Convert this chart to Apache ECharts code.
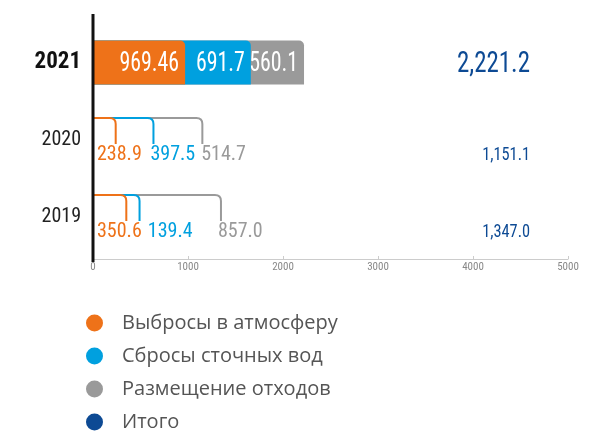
<!DOCTYPE html>
<html>
<head>
<meta charset="utf-8">
<script src="https://cdn.jsdelivr.net/npm/echarts@6/dist/echarts.min.js"></script>
<style>
  html, body { margin: 0; padding: 0; background: #fff; }
  #chart { width: 600px; height: 431px; }
</style>
</head>
<body>
<div id="chart"></div>
<script>
const years = ['2021', '2020', '2019'];
const barYear = '2021';
const emissions = [969.46, 238.9, 350.6];
const discharges = [691.7, 397.5, 139.4];
const waste = [560.1, 514.7, 857.0];
const totals = [2221.2, 1151.1, 1347.0];
const xTicks = [0, 1000, 2000, 3000, 4000, 5000];

const names = ['Выбросы в атмосферу', 'Сбросы сточных вод', 'Размещение отходов', 'Итого'];
const colors = ['#ee7219', '#00a0df', '#9a9a9a', '#0d4a94'];
const NARROW = '"Roboto Condensed", "Liberation Sans Narrow", "Roboto", sans-serif';
const BRACKET_FONT = '20px ' + NARROW;

const parts = [emissions, discharges, waste];

const measureCtx = document.createElement('canvas').getContext('2d');
function textWidth(text, font) {
  measureCtx.font = font;
  return measureCtx.measureText(text).width;
}

function fmt(v) {
  const s = String(v);
  return s.includes('.') ? s : v.toFixed(1);
}

function cumEnds(row) {
  let acc = 0;
  return parts.map(p => (acc += p[row]));
}

// left edges of the value labels under the brackets, pushed right so they don't collide
function bracketLabelLefts(row, api) {
  const ends = cumEnds(row);
  const x0 = api.coord([0, row])[0];
  const lefts = [];
  ends.forEach((end, j) => {
    const xe = api.coord([end, row])[0];
    if (j === 0) lefts.push(x0 + 4);
    else {
      const prevRight = lefts[j - 1] + textWidth(fmt(parts[j - 1][row]), BRACKET_FONT);
      lefts.push(Math.max(xe - 3, prevRight + 6));
    }
  });
  return lefts;
}

// each item: [cumulative end, row, cumulative start, own value]
function partData(k) {
  return years.map((y, i) => {
    let start = 0;
    for (let j = 0; j < k; j++) start += parts[j][i];
    return [start + parts[k][i], i, start, parts[k][i]];
  });
}

function renderPart(k) {
  return (params, api) => {
    const row = api.value(1);
    const end = api.value(0);
    const own = api.value(3);
    const p0 = api.coord([0, row]);
    const pe = api.coord([end, row]);
    const band = api.size([0, 1])[1];
    const color = colors[k];
    if (years[row] === barYear) {
      const h = band * 0.57;
      return {
        type: 'group',
        children: [
          { type: 'rect', shape: { x: p0[0], y: pe[1] - h / 2, width: pe[0] - p0[0], height: h, r: [0, 5, 0, 0] }, style: { fill: color } },
          {
            type: 'text', x: pe[0] - 6, y: pe[1] + 1, scaleX: 0.78,
            style: { x: 0, y: 0, text: fmt(own), align: 'right', verticalAlign: 'middle', fill: '#fff', font: '28px ' + NARROW },
          },
        ],
      };
    }
    const top = pe[1] - band * 0.28;
    const bot = pe[1] + band * 0.06;
    const r = 6;
    const xe = pe[0];
    const path = `M${p0[0]} ${top} L${xe - r} ${top} Q${xe} ${top} ${xe} ${top + r} L${xe} ${bot}`;
    const tx = bracketLabelLefts(row, api)[k];
    return {
      type: 'group',
      children: [
        { type: 'path', shape: { pathData: path }, style: { stroke: color, lineWidth: 2, fill: null } },
        { type: 'text', style: { x: tx, y: pe[1] + band * 0.2, text: fmt(own), align: 'left', verticalAlign: 'middle', fill: color, font: BRACKET_FONT } },
      ],
    };
  };
}

function renderTotal(params, api) {
  const row = api.value(1);
  const p = api.coord([api.value(0), row]);
  const band = api.size([0, 1])[1];
  const cur = years[row] === barYear;
  const cs = params.coordSys;
  return {
    type: 'text',
    x: cs.x + cs.width - 38,
    y: cur ? p[1] + 2 : p[1] + band * 0.2,
    scaleX: 0.86,
    style: {
      x: 0,
      y: 0,
      text: api.value(0).toLocaleString('en-US', { minimumFractionDigits: 1, maximumFractionDigits: 1 }),
      align: 'right',
      verticalAlign: 'middle',
      fill: colors[3],
      font: (cur ? '29px ' : '19px ') + NARROW,
    },
  };
}

const series = parts.map((_, k) => ({
  name: names[k],
  type: 'custom',
  renderItem: renderPart(k),
  itemStyle: { color: colors[k] },
  encode: { x: 0, y: 1 },
  z: 10 - k,
  data: partData(k),
}));
series.push({
  name: names[3],
  type: 'custom',
  renderItem: renderTotal,
  itemStyle: { color: colors[3] },
  encode: { x: 0, y: 1 },
  data: totals.map((t, i) => [t, i]),
});

const chart = echarts.init(document.getElementById('chart'), null, { renderer: 'canvas' });
chart.setOption({
  animation: false,
  backgroundColor: '#fff',
  grid: { left: 93, right: 32, top: 24, bottom: 176 },
  xAxis: {
    type: 'value',
    min: xTicks[0],
    max: xTicks[xTicks.length - 1],
    interval: 1000,
    offset: 4,
    axisLine: { show: true, lineStyle: { color: '#cccccc', width: 1 } },
    axisTick: { show: true, inside: true, length: 3, lineStyle: { color: '#cccccc' } },
    axisLabel: { color: '#888', fontSize: 11, fontFamily: NARROW, margin: 3, formatter: v => String(v) },
    splitLine: { show: false },
  },
  yAxis: {
    type: 'category',
    data: years,
    inverse: true,
    axisLine: { show: false },
    axisTick: { show: false },
    axisLabel: {
      margin: 12,
      formatter: v => (v === barYear ? `{cur|${v}}` : `{old|${v}}`),
      rich: {
        cur: { fontFamily: NARROW, fontWeight: 'bold', fontSize: 23, color: '#111' },
        old: { fontFamily: NARROW, fontSize: 20, color: '#222' },
      },
    },
  },
  legend: {
    orient: 'vertical',
    left: 86,
    top: 313,
    height: 130,
    padding: 0,
    icon: 'circle',
    itemWidth: 17,
    itemHeight: 17,
    itemGap: 13,
    data: names,
    textStyle: { fontFamily: '"Open Sans", sans-serif', fontSize: 20, lineHeight: 17, color: '#555', padding: [0, 0, 0, 14] },
  },
  graphic: [
    { type: 'line', z: 100, shape: { x1: 93, y1: 14, x2: 93, y2: 262 }, style: { stroke: '#111', lineWidth: 3 } },
  ],
  series,
});
</script>
</body>
</html>
